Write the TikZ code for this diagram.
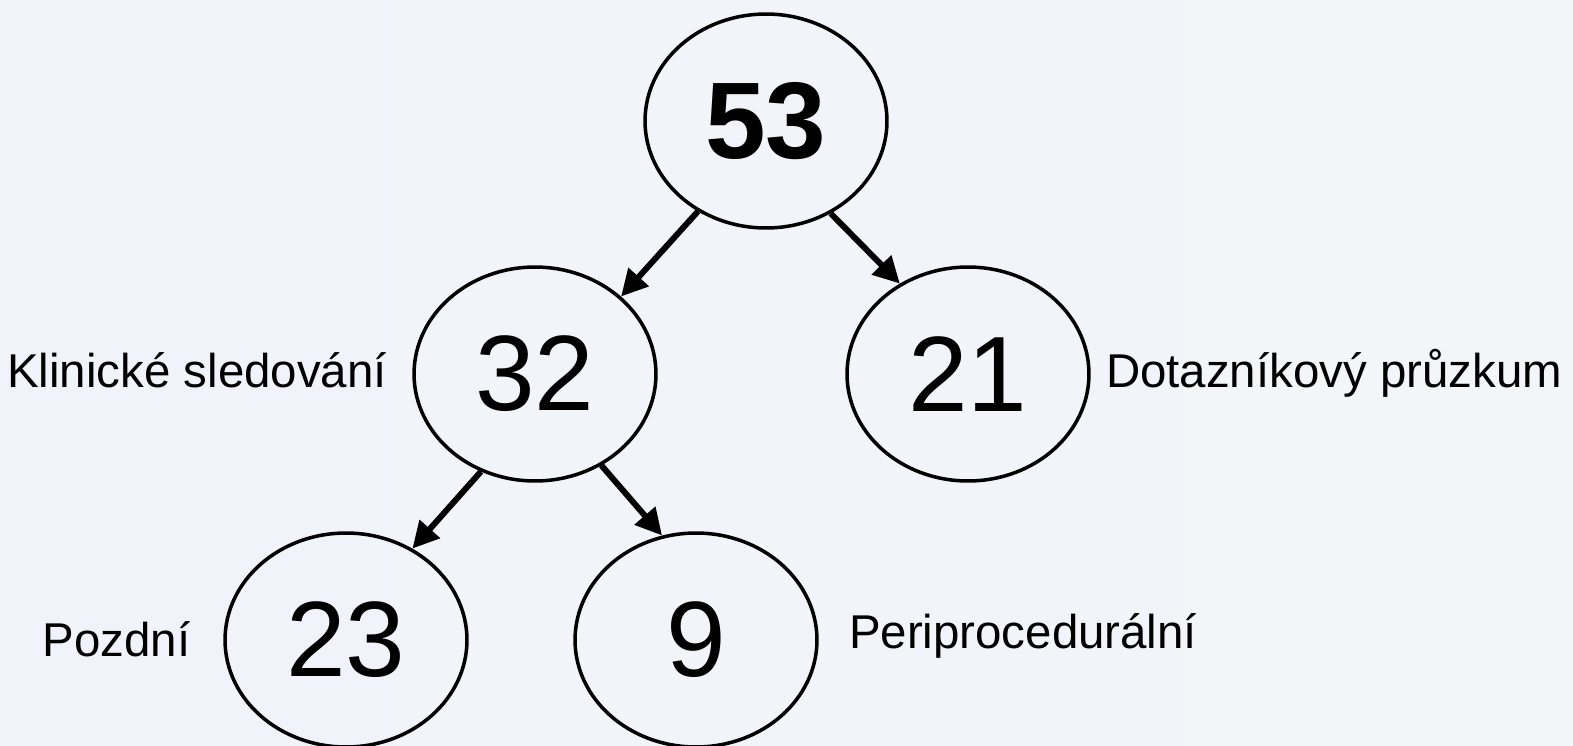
\documentclass[tikz,border=0pt]{standalone}
\usepackage{fontspec}
\setmainfont{Liberation Sans}
\usetikzlibrary{arrows.meta,shapes.geometric,positioning}
\definecolor{pozadiL}{RGB}{240,243,250}
\definecolor{pozadiR}{RGB}{244,245,248}
\tikzset{
  uzel/.style={draw,ellipse,line width=2pt,minimum width=4.84cm,minimum height=4.28cm,inner sep=0pt,font=\fontsize{61}{61}\selectfont},
  popis/.style={inner sep=0pt,font=\fontsize{27}{27}\selectfont},
  sipka/.style={line width=3.4pt,-{Triangle[length=15pt,width=15pt]}}
}
\begin{document}
\begin{tikzpicture}[x=0.02cm,y=-0.02cm]
\shade[left color=pozadiL,right color=pozadiR] (0,0) rectangle (1573,745);
\useasboundingbox (0,0) rectangle (1573,745);
%\draw [help lines,step=2cm] (0,0) grid (1573,745);
\node[uzel,font=\fontsize{62}{62}\selectfont\bfseries] (n53) at (766,121) {53};
\node[uzel] (n32) at (535,374) {32}; \node[uzel] (n21) at (968,374) {21};
\node[uzel] (n23) at (346,640) {23}; \node[uzel] (n9) at (696,640) {9};
\draw[sipka] (n53.233) -- (n32.42); \draw[sipka] (n53.305) -- (n21.127);
\draw[sipka] (n32.241) -- (n23.54); \draw[sipka] (n32.306) -- (n9.108);
\node[popis,left=0.5cm of n32,anchor=mid east,yshift=-5pt] (klin) {Klinické sledování};
\node[popis,right=0.3cm of n21,anchor=mid west,yshift=-5pt] (dotaz) {Dotazníkový průzkum};
\node[popis,left=0.65cm of n23,anchor=mid east,yshift=-7pt] (pozd) {Pozdní};
\node[popis,right=0.6cm of n9,anchor=mid west,yshift=-2pt] (peri) {Periprocedurální};
\end{tikzpicture}
\end{document}
